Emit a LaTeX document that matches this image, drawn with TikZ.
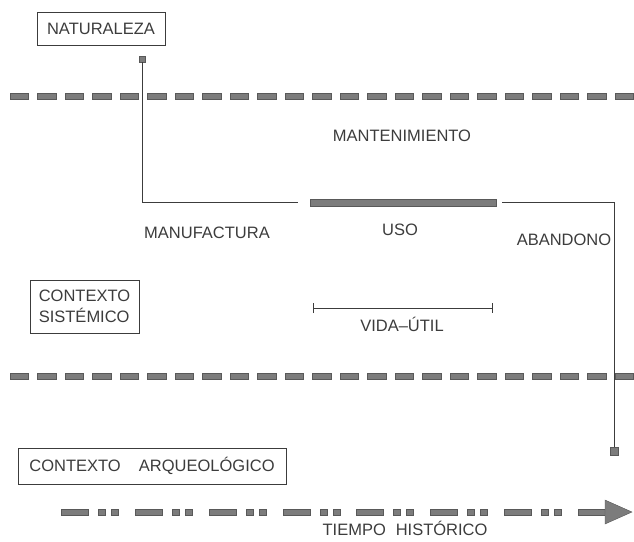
\documentclass[tikz,border=0pt]{standalone}
\usepackage{fontspec}
\setmainfont{Liberation Sans}
\usetikzlibrary{positioning, arrows.meta}
\definecolor{tinta}{HTML}{3C3C3C}
\definecolor{trama}{HTML}{7C7C7C}

\begin{document}
\begin{tikzpicture}[x=1pt,y=-1pt,
    lbl/.style={text=tinta,font=\fontsize{16.5}{21}\selectfont},
    caja/.style={lbl,draw=tinta,line width=0.8pt,inner sep=0pt,align=left},
    seg/.style={fill=trama,draw=tinta!85,line width=0.4pt},
    hilo/.style={draw=tinta,line width=0.9pt}]
    \useasboundingbox (0,0) rectangle (634,541);
    % lineas de contexto
    \foreach \i in {0,...,22}{\filldraw[seg] (10+27.5*\i,93) rectangle ++(18.5,6);}
    \foreach \i in {0,...,22}{\filldraw[seg] (10+27.5*\i,373) rectangle ++(18.5,6);}
    % tiempo
    \foreach \i in {0,...,7}{\filldraw[seg] (61+73.9*\i,509) rectangle ++(27,6);}
    \foreach \i in {0,...,6}{\filldraw[seg] (98+73.9*\i,509) rectangle ++(7,6);}
    \foreach \i in {0,...,6}{\filldraw[seg] (111+73.9*\i,509) rectangle ++(7,6);}
    \filldraw[seg] (605,500) -- (632,512) -- (605,524) -- cycle;
    \node[caja,minimum width=128pt,minimum height=33pt] (naturaleza) at (101,28.5) {NATURALEZA};
    \node[caja,minimum width=109pt,minimum height=53pt] (sistemico) at (84.5,306.5) {CONTEXTO\\SIST\'EMICO};
    \node[caja,minimum width=268pt,minimum height=36pt] (arqueologico) at (152,466) {CONTEXTO\hspace{1.1em}ARQUEOL\'OGICO};
    \node[seg,minimum size=6pt,inner sep=0pt] (natsq) at (142.5,59) {};
    \node[seg,minimum width=186pt,minimum height=7pt,inner sep=0pt] (usobar) at (403,202.5) {};
    \node[seg,minimum size=8pt,inner sep=0pt] (abansq) at (614.5,451) {};
    \node[lbl] (mantenimiento) at (402,136) {MANTENIMIENTO};
    \node[lbl] (manufactura) at (207,233) {MANUFACTURA};
    \node[lbl] (uso) at (400,230) {USO};
    \node[lbl] (abandono) at (564,240) {ABANDONO};
    \node[lbl] (vidautil) at (402,324) {VIDA--\'UTIL};
    \node[lbl] (tiempo) at (405,528) {TIEMPO\hspace{0.6em}HIST\'ORICO};
    \coordinate (vidaini) at (313,308);
    \coordinate (vidafin) at (493,308);
    \draw[hilo,{Bar[width=10pt]}-{Bar[width=10pt]}] (vidaini) -- (vidafin);
    \draw[hilo,shorten >=12pt] (natsq.south) |- (usobar.west);
    \draw[hilo,shorten <=6pt] (usobar.east) -| (abansq.north);
\end{tikzpicture}
\end{document}
